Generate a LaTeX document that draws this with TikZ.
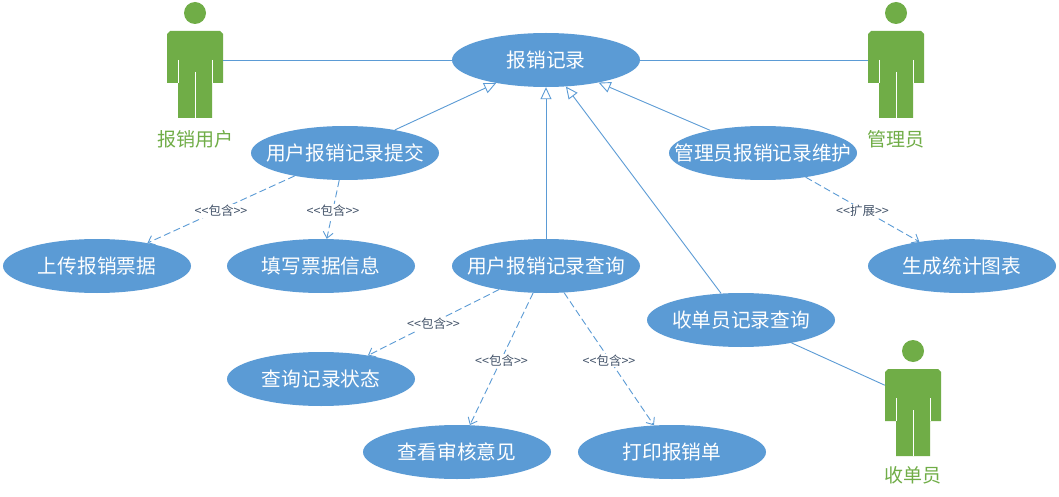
\documentclass[tikz,border=0pt]{standalone}
\usepackage{fontspec}
\setmainfont{Noto Sans CJK SC}
\usetikzlibrary{shapes.geometric,arrows.meta}
\definecolor{ucblue}{HTML}{5B9BD5}
\definecolor{actgreen}{HTML}{70AD47}
\definecolor{lblcol}{HTML}{44546A}
\newcommand{\uctext}[1]{\makebox[0pt]{#1}}
\tikzset{
  usecase/.style={ellipse,fill=ucblue,text=white,minimum width=188pt,minimum height=54pt,inner sep=0pt,font=\fontsize{19.7}{19.7}\selectfont},
  actorbox/.style={rectangle,minimum width=56pt,minimum height=116pt,inner sep=0pt},
  actorname/.style={text=actgreen,inner sep=0pt,font=\fontsize{19}{19}\selectfont},
  conn/.style={draw=ucblue,line width=0.9pt},
  gen/.style={conn,-{Triangle[open,fill=white,length=12pt,width=11pt]}},
  incl/.style={conn,dashed,dash pattern=on 7pt off 3.5pt,-{Straight Barb[length=6pt,width=10pt]}},
  stereo/.style={midway,yshift=-1.5pt,fill=white,text=lblcol,inner sep=1pt,font=\fontsize{12.5}{12.5}\selectfont},
  actorfig/.pic={
    \fill[actgreen] (0,-47) circle[radius=11pt];
    \fill[actgreen] (-25,-29) -- (25,-29) -- (28,-26) -- (28,23) -- (17,23) -- (17,58) -- (-17,58) -- (-17,23) -- (-28,23) -- (-28,-26) -- cycle;
    \draw[white,line width=0.7pt] (-17,0) -- (-17,23) (17,0) -- (17,23) (0,12) -- (0,58);
  }
}
\begin{document}
\begin{tikzpicture}[x=1pt,y=-1pt]
\fill[white] (0,0) rectangle (1059,497);
\useasboundingbox (0,0) rectangle (1059,497);
% actors
\node[actorbox] (userA) at (195,60) {};
\pic at (195,60) {actorfig};
\node[actorbox] (adminA) at (896,60) {};
\pic at (896,60) {actorfig};
\node[actorbox] (cashA) at (913,398) {};
\pic at (913,398) {actorfig};
\node[actorname] (userN) at (195,139) {报销用户};
\node[actorname] (adminN) at (896,139) {管理员};
\node[actorname] (cashN) at (913,475) {收单员};
% use cases
\node[usecase] (rec) at (546,60) {\uctext{报销记录}};
\node[usecase] (submit) at (345,153) {\uctext{用户报销记录提交}};
\node[usecase] (maint) at (763,153) {\uctext{管理员报销记录维护}};
\node[usecase] (upload) at (97,266) {\uctext{上传报销票据}};
\node[usecase] (fill) at (321,266) {\uctext{填写票据信息}};
\node[usecase] (query) at (546,266) {\uctext{用户报销记录查询}};
\node[usecase] (stats) at (962,266) {\uctext{生成统计图表}};
\node[usecase] (cashq) at (741,320) {\uctext{收单员记录查询}};
\node[usecase] (status) at (321,379) {\uctext{查询记录状态}};
\node[usecase] (review) at (457,452) {\uctext{查看审核意见}};
\node[usecase] (print) at (672,452) {\uctext{打印报销单}};
% associations
\draw[conn] (userA) -- (rec);
\draw[conn] (adminA) -- (rec);
\draw[conn] (cashA) -- (cashq);
% generalisation
\draw[gen] (submit) -- (rec);
\draw[gen] (maint) -- (rec);
\draw[gen] (query) -- (rec);
\draw[gen] (cashq) -- (rec);
% include / extend
\draw[incl] (submit) -- node[stereo] {<{}<包含>{}>} (upload);
\draw[incl] (submit) -- node[stereo] {<{}<包含>{}>} (fill);
\draw[incl] (maint) -- node[stereo] {<{}<扩展>{}>} (stats);
\draw[incl] (query) -- node[stereo] {<{}<包含>{}>} (status);
\draw[incl] (query) -- node[stereo] {<{}<包含>{}>} (review);
\draw[incl] (query) -- node[stereo] {<{}<包含>{}>} (print);
\end{tikzpicture}
\end{document}
